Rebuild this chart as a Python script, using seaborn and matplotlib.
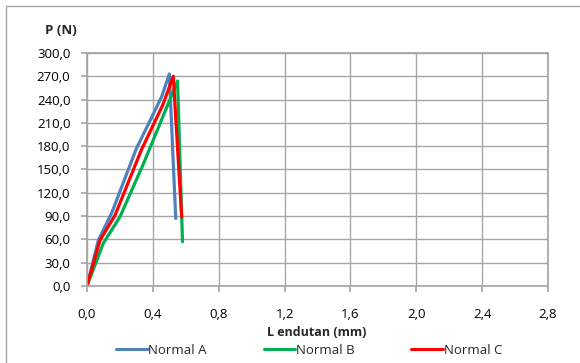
import matplotlib
matplotlib.use("Agg")
import matplotlib.pyplot as plt
import seaborn as sns
import pandas as pd
from matplotlib.patches import Rectangle
from matplotlib.lines import Line2D

sns.set_theme(style="white")
plt.rcParams['font.family'] = ['Open Sans', 'DejaVu Sans']

# Data
a_x = [0.00, 0.069, 0.15, 0.30, 0.39, 0.454, 0.50, 0.539]
a_y = [0.0, 59.0, 94.0, 177.0, 216.0, 244.0, 273.0, 87.0]
b_x = [0.00, 0.099, 0.20, 0.34, 0.494, 0.55, 0.58]
b_y = [0.0, 55.0, 89.0, 156.0, 235.0, 264.0, 57.0]
c_x = [0.00, 0.079, 0.17, 0.33, 0.46, 0.524, 0.575]
c_y = [0.0, 59.0, 91.0, 175.0, 233.0, 270.0, 89.0]
names = ["Normal A", "Normal B", "Normal C"]
colors = ["#4f81bd", "#00b050", "#ff0000"]

frames = []
for n, xs, ys in zip(names, [a_x, b_x, c_x], [a_y, b_y, c_y]):
    frames.append(pd.DataFrame({"x": xs, "y": ys, "s": n, "o": range(len(xs))}))
df = pd.concat(frames, ignore_index=True)

fig = plt.figure(figsize=(5.8, 3.63), dpi=100)
ax = fig.add_axes([87/580, 1-286/363, (548-87)/580, (286-53)/363])
sns.lineplot(data=df, x="x", y="y", hue="s", palette=colors, sort=False,
             estimator=None, units="s", ax=ax, linewidth=2.3, legend=False)

ax.set_xlim(0, 2.8)
ax.set_ylim(0, 300)
xt = [0.0, 0.4, 0.8, 1.2, 1.6, 2.0, 2.4, 2.8]
yt = list(range(0, 301, 30))
ax.set_xticks(xt)
ax.set_yticks(yt)
ax.set_xticklabels([f"{v:.1f}".replace(".", ",") for v in xt], fontsize=9.5)
ax.set_yticklabels([f"{v:.1f}".replace(".", ",") for v in yt], fontsize=9.5)
ax.grid(True, color="#a6a6a6", linewidth=1)
for sp in ax.spines.values():
    sp.set_color("#a6a6a6")
ax.tick_params(axis="both", length=4, color="#a6a6a6", direction="out",
               bottom=True, left=True, colors="#000000")
ax.tick_params(axis="x", pad=12)
ax.tick_params(axis="y", pad=8)
ax.set_xlabel("")
ax.set_ylabel("")

fig.text(61/580, 1-31/363, "P (N)", fontsize=9.5, fontweight="bold", ha="center", va="center")
fig.text(317/580, 1-332/363, "L endutan (mm)", fontsize=9, fontweight="bold", ha="center", va="center")

handles = [Line2D([0], [0], color=c, lw=2.2) for c in colors]
fig.legend(handles, names, loc="center", bbox_to_anchor=(309/580, 1-350/363),
           ncol=3, frameon=False, fontsize=9.5, handlelength=2.4, handletextpad=0.05,
           columnspacing=4.3, borderpad=0, borderaxespad=0)

fig.patches.append(Rectangle((6/580, -0.1), 1.2, 1.1 - 6/363, transform=fig.transFigure,
                             fill=False, edgecolor="#a6a6a6", linewidth=1))
fig.savefig("out.png", dpi=100)
